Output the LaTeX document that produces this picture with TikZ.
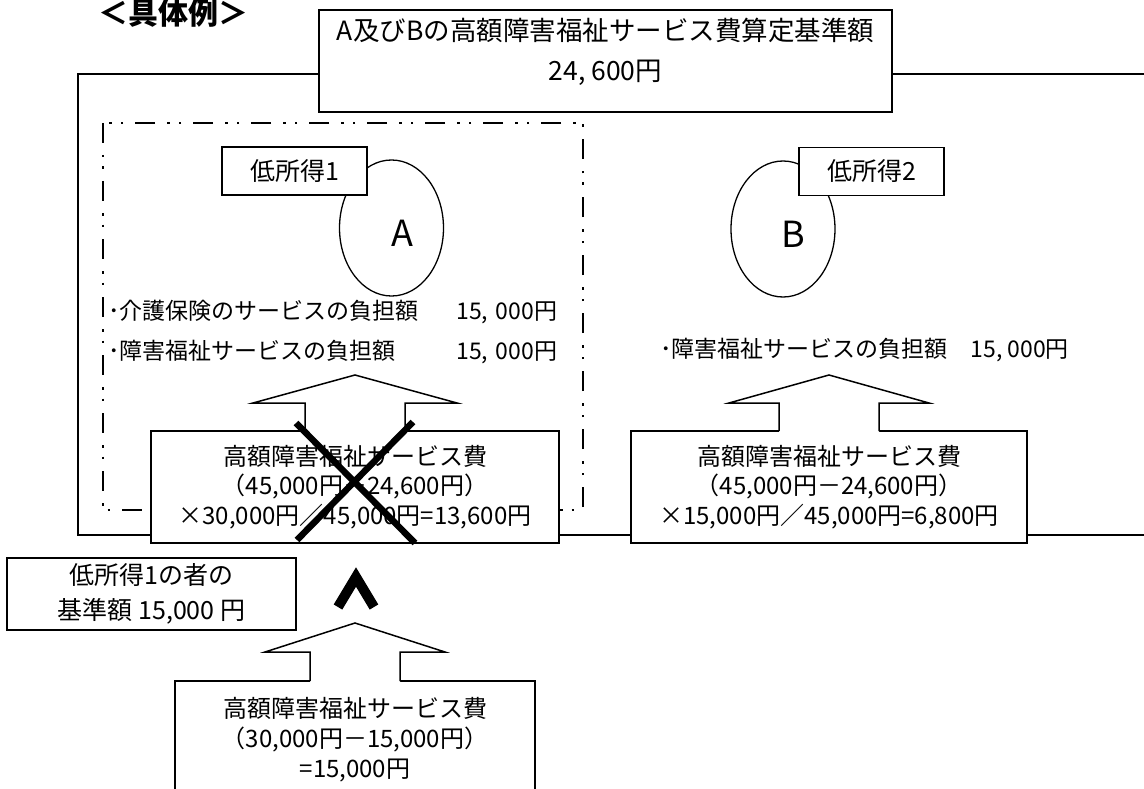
\documentclass[tikz,border=0pt]{standalone}
\usepackage{fontspec}
\setmainfont{Noto Sans CJK JP}
\usetikzlibrary{shapes.geometric}

\tikzset{
  valbox/.style={draw, line width=1.8pt, fill=white, inner sep=0pt, outer sep=0pt, align=center},
  tagbox/.style={draw, line width=1.6pt, fill=white, inner sep=0pt, outer sep=0pt,
    minimum width=145pt, minimum height=48pt, font=\fontsize{25}{30}\selectfont},
  person/.style={draw, ellipse, line width=1.3pt, inner sep=0pt,
    minimum width=104pt, minimum height=136pt},
  fatarrow/.style={line width=1.5pt, line join=miter},
  listline/.style={inner sep=0pt, font=\fontsize{23}{28}\selectfont},
}

\begin{document}
\begin{tikzpicture}[x=1pt,y=-1pt]
  \useasboundingbox (0,0) rectangle (1144,789);
  \clip (0,0) rectangle (1144,789);

  \node[font=\bfseries\fontsize{30}{36}\selectfont] (title) at (173,13) {＜具体例＞};

  \draw[line width=1.8pt] (1170,74) -- (78,74) -- (78,535) -- (1170,535);
  \draw[line width=2.2pt, dash pattern=on 20pt off 12pt on 2.5pt off 9pt on 2.5pt off 12pt]
    (103,123) rectangle (583,510);

  \node[valbox, minimum width=573pt, minimum height=102pt] (kijun) at (605.5,61) {};
  \node[font=\fontsize{26.5}{40}\selectfont, align=center] (kijuntext) at (605.5,52)
    {A及びBの高額障害福祉サービス費算定基準額\\24, 600円};

  \node[person] (persA) at (391.5,228) {};
  \node[font=\fontsize{36}{40}\selectfont] (nameA) at (402,233) {A};
  \node[tagbox] (tag1) at (294.5,171) {低所得1};

  \node[person] (persB) at (783,229) {};
  \node[font=\fontsize{36}{40}\selectfont] (nameB) at (793,234) {B};
  \node[tagbox] (tag2) at (871.5,171.5) {低所得2};

  \node[listline, anchor=west, text width=449pt] (kaigo) at (108,312)
    {･介護保険のサービスの負担額\hfill 15, 000円};
  \node[listline, anchor=west, text width=449pt] (fukushiA) at (108,352)
    {･障害福祉サービスの負担額\hfill 15, 000円};
  \node[listline] (fukushiB) at (864.5,350) {･障害福祉サービスの負担額　15, 000円};

  \node[valbox, minimum width=408pt, minimum height=112pt, font=\fontsize{24}{29.5}\selectfont]
    (lbox) at (355,487) {高額障害福祉サービス費\\（45,000円－24,600円）\\×30,000円／45,000円=13,600円};
  \node[valbox, minimum width=396pt, minimum height=112pt, font=\fontsize{24}{29.5}\selectfont]
    (rbox) at (829,487) {高額障害福祉サービス費\\（45,000円－24,600円）\\×15,000円／45,000円=6,800円};
  \node[valbox, minimum width=289pt, minimum height=72pt, font=\fontsize{25}{35}\selectfont]
    (kijun1) at (151.5,594) {低所得1の者の\\基準額 15,000 円};
  \node[valbox, minimum width=360pt, minimum height=118pt, font=\fontsize{24}{30}\selectfont]
    (bbox) at (355,740) {高額障害福祉サービス費\\（30,000円－15,000円）\\=15,000円};

  \fill[white] ([xshift=-50,yshift=-1]lbox.north) -- ([xshift=-50,yshift=28]lbox.north)
    -- ([xshift=-102,yshift=28]lbox.north) -- ([yshift=56]lbox.north)
    -- ([xshift=102,yshift=28]lbox.north) -- ([xshift=50,yshift=28]lbox.north)
    -- ([xshift=50,yshift=-1]lbox.north) -- cycle;
  \draw[fatarrow] ([xshift=-50]lbox.north) -- ([xshift=-50,yshift=28]lbox.north)
    -- ([xshift=-102,yshift=28]lbox.north) -- ([yshift=56]lbox.north)
    -- ([xshift=102,yshift=28]lbox.north) -- ([xshift=50,yshift=28]lbox.north)
    -- ([xshift=50]lbox.north);

  \fill[white] ([xshift=-50,yshift=-1]rbox.north) -- ([xshift=-50,yshift=28]rbox.north)
    -- ([xshift=-100,yshift=28]rbox.north) -- ([yshift=56]rbox.north)
    -- ([xshift=100,yshift=28]rbox.north) -- ([xshift=50,yshift=28]rbox.north)
    -- ([xshift=50,yshift=-1]rbox.north) -- cycle;
  \draw[fatarrow] ([xshift=-50]rbox.north) -- ([xshift=-50,yshift=28]rbox.north)
    -- ([xshift=-100,yshift=28]rbox.north) -- ([yshift=56]rbox.north)
    -- ([xshift=100,yshift=28]rbox.north) -- ([xshift=50,yshift=28]rbox.north)
    -- ([xshift=50]rbox.north);

  \fill[white] ([xshift=-45,yshift=-1]bbox.north) -- ([xshift=-45,yshift=29]bbox.north)
    -- ([xshift=-90,yshift=29]bbox.north) -- ([yshift=58]bbox.north)
    -- ([xshift=90,yshift=29]bbox.north) -- ([xshift=45,yshift=29]bbox.north)
    -- ([xshift=45,yshift=-1]bbox.north) -- cycle;
  \draw[fatarrow] ([xshift=-45]bbox.north) -- ([xshift=-45,yshift=29]bbox.north)
    -- ([xshift=-90,yshift=29]bbox.north) -- ([yshift=58]bbox.north)
    -- ([xshift=90,yshift=29]bbox.north) -- ([xshift=45,yshift=29]bbox.north)
    -- ([xshift=45]bbox.north);

  \draw[line width=6.5pt] (296,423) -- (415,543) (413,422) -- (297,540);
  \draw[line width=10pt, line join=miter] (338,607) -- (356,577) -- (374,607);
\end{tikzpicture}
\end{document}
